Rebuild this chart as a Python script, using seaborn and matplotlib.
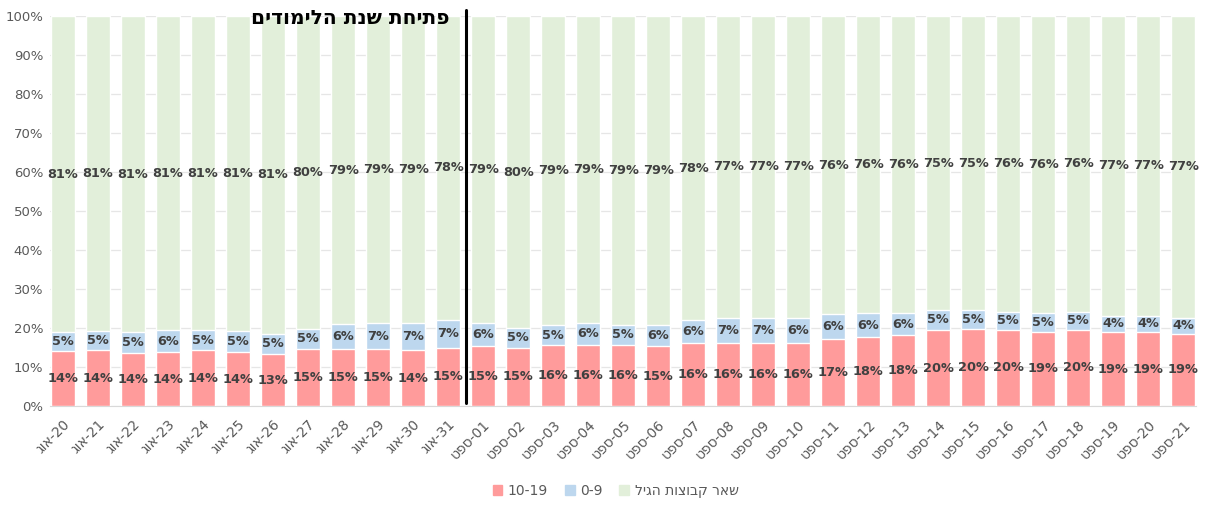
import matplotlib
matplotlib.use("Agg")
import matplotlib.pyplot as plt
import seaborn as sns
import pandas as pd
import numpy as np
from matplotlib.patches import Patch

# Dates (Hebrew month written in visual order for left-to-right rendering)
days_aug = ["20", "21", "22", "23", "24", "25", "26", "27", "28", "29", "30", "31"]
days_sep = ["01", "02", "03", "04", "05", "06", "07", "08", "09", "10", "11",
            "12", "13", "14", "15", "16", "17", "18", "19", "20", "21"]
dates = ["גוא-" + d for d in days_aug] + ["טפס-" + d for d in days_sep]

# Share of cases by age group (%)
age_10_19 = [14.2, 14.4, 13.6, 13.8, 14.3, 13.8, 13.3, 14.6, 14.6, 14.6, 14.3, 15.0,
             15.3, 15.0, 15.6, 15.8, 15.8, 15.3, 16.1, 16.1, 16.1, 16.3, 17.3,
             17.8, 18.2, 19.5, 19.7, 19.6, 19.1, 19.6, 19.0, 19.0, 18.6]
age_0_9 = [4.7, 4.9, 5.3, 5.6, 5.1, 5.4, 5.3, 5.3, 6.4, 6.6, 7.0, 7.2,
           5.9, 5.0, 5.1, 5.6, 5.1, 5.6, 5.9, 6.6, 6.6, 6.4, 6.3,
           6.0, 5.6, 5.2, 5.0, 4.6, 4.8, 4.6, 4.2, 4.2, 4.1]
age_rest = [100 - a - b for a, b in zip(age_10_19, age_0_9)]

label_rest = "ליגה תוצובק ראש"
title_text = "םידומילה תנש תחיתפ"

c_red = "#FF9B9B"
c_blue = "#BDD7EE"
c_green = "#E2EFDA"
txt = "#404040"
grey = "#595959"

df = pd.DataFrame({"date": dates, "r": age_10_19, "b": age_0_9, "g": age_rest})
df["rb"] = df["r"] + df["b"]
df["total"] = df["rb"] + df["g"]

sns.set_style("white")
plt.rcParams["font.family"] = ["DejaVu Sans"]

fig = plt.figure(figsize=(12.07, 5.07), dpi=100)
ax = fig.add_axes([0.0415, 0.199, 0.949, 0.769])

ax.yaxis.grid(True, color="#E6E6E6", linewidth=0.9, zorder=0)
ax.set_axisbelow(True)

w = 0.68
sns.barplot(data=df, x="date", y="total", color=c_green, width=w, ax=ax,
            saturation=1, zorder=2)
sns.barplot(data=df, x="date", y="rb", color=c_blue, width=w, ax=ax,
            saturation=1, zorder=3)
sns.barplot(data=df, x="date", y="r", color=c_red, width=w, ax=ax,
            saturation=1, zorder=4)

xs = np.arange(len(dates))
for i in xs:
    r, b, g = age_10_19[i], age_0_9[i], age_rest[i]
    kw = dict(ha="center", va="center", fontsize=9.3, fontweight="bold",
              color=txt, zorder=6)
    ax.text(i, r / 2, f"{r:.0f}%", **kw)
    ax.text(i, r + b / 2, f"{b:.0f}%", **kw)
    ax.text(i, r + b + g / 2, f"{g:.0f}%", **kw)

ax.set_xlim(-0.37, 32.35)
ax.set_ylim(0, 100)
ax.set_yticks(np.arange(0, 101, 10))
ax.set_yticklabels([f"{v}%" for v in range(0, 101, 10)], fontsize=9.5, color=grey)
ax.set_xticks(xs)
ax.set_xticklabels(dates, rotation=45, ha="right", rotation_mode="anchor",
                   fontsize=10, color=grey)
ax.tick_params(axis="x", length=0, pad=8)
ax.tick_params(axis="y", length=0, pad=5)
ax.set_xlabel("")
ax.set_ylabel("")
for s in ["top", "right", "left"]:
    ax.spines[s].set_visible(False)
ax.spines["bottom"].set_color("#D9D9D9")

# school-year opening marker
ax.plot([11.5, 11.5], [0.8, 101.5], color="black", linewidth=2.2,
        clip_on=False, zorder=7)
ax.text(11.05, 99.4, title_text, ha="right", va="center", fontsize=14.5,
        fontweight="bold", color="black", zorder=7)

handles = [Patch(color=c_red, label="10-19"),
           Patch(color=c_blue, label="0-9"),
           Patch(color=c_green, label=label_rest)]
leg = fig.legend(handles=handles, loc="center", bbox_to_anchor=(0.51, 0.032),
                 ncol=3, frameon=False, fontsize=10, handlelength=0.7,
                 handleheight=0.7, handletextpad=0.4, columnspacing=1.2)
for t in leg.get_texts():
    t.set_color(grey)

fig.savefig("out.png", dpi=100)
